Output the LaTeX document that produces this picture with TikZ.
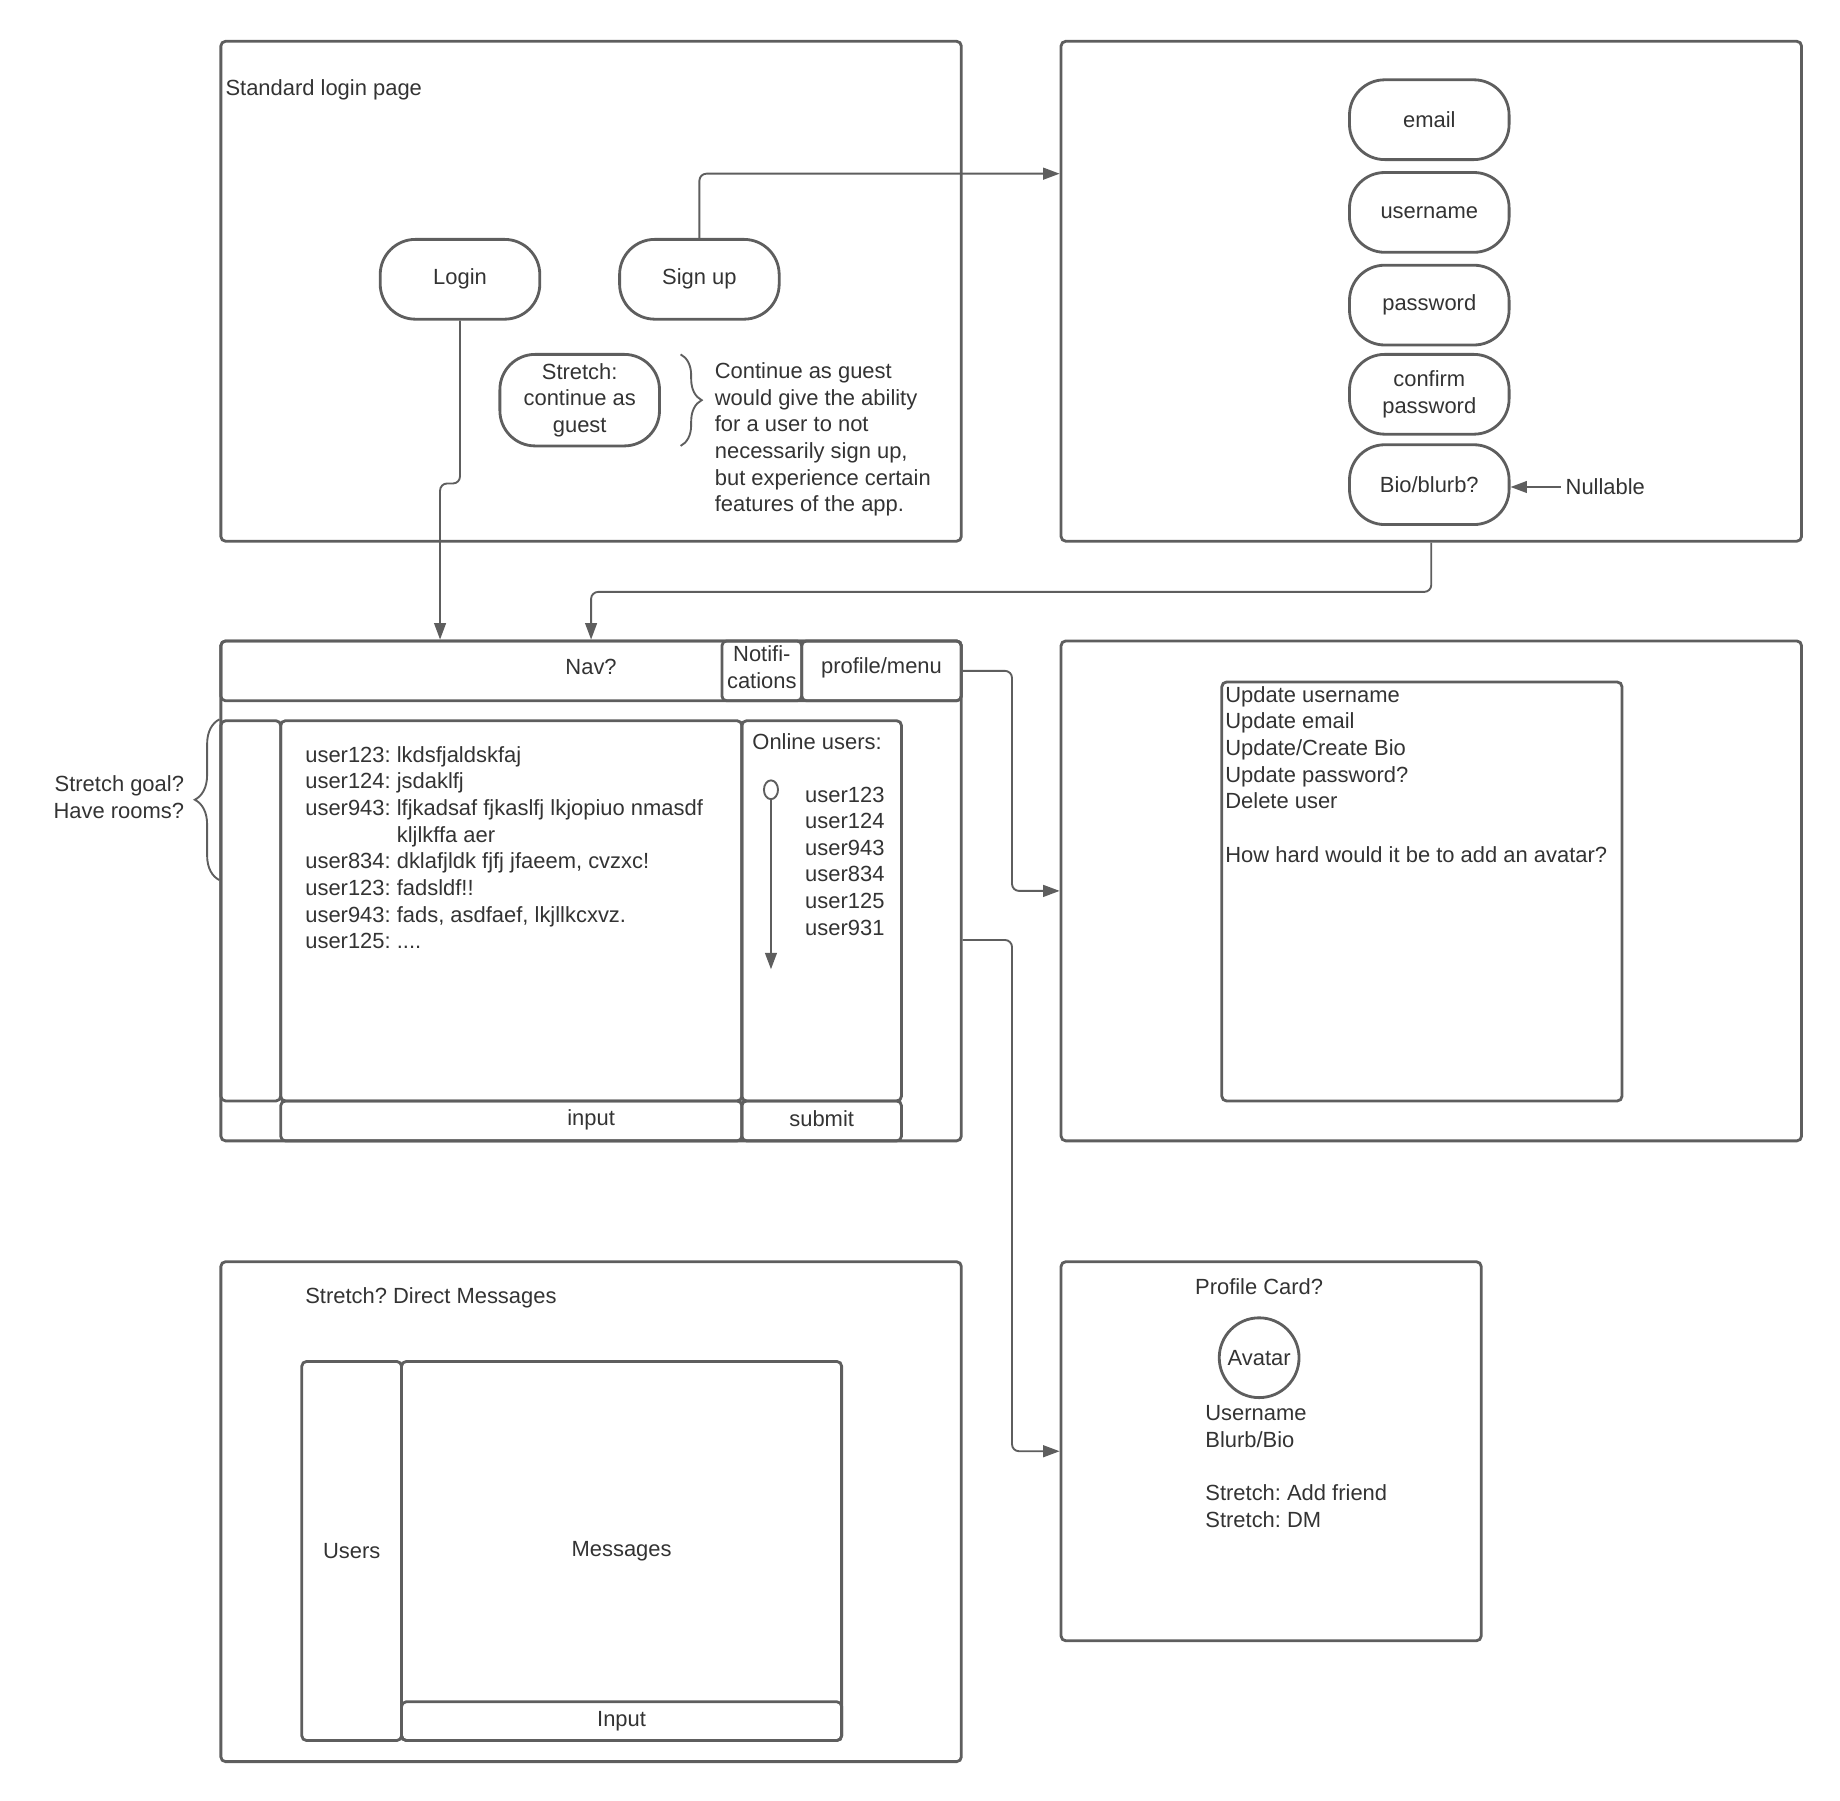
\documentclass[tikz,border=0pt]{standalone}
\usepackage{fontspec}
\setmainfont{Liberation Sans}
\frenchspacing
\usetikzlibrary{arrows.meta,shapes.geometric,decorations.pathreplacing}
\definecolor{wireline}{HTML}{5E5E5E}
\definecolor{wireink}{HTML}{333333}

\begin{document}
\begin{tikzpicture}[
  x=1pt, y=-1pt,
  every node/.style={font=\fontsize{18.7}{22.7}\selectfont, text=wireink},
  panel/.style={draw=wireline, line width=2.4pt, rounded corners=4pt,
                anchor=north west, inner sep=0pt},
  field/.style={draw=wireline, line width=2.4pt, rounded corners=30pt,
                minimum width=136pt, minimum height=68pt, align=center, inner sep=0pt},
  conn/.style={draw=wireline, line width=1.6pt, rounded corners=6pt,
               -{Triangle[length=14pt,width=10pt]}},
  txt/.style={anchor=base west, inner sep=0pt},
  bracket/.style={draw=wireline, line width=1.6pt, decorate,
                  decoration={brace, amplitude=#1}}
]

\useasboundingbox (0,0) rectangle (1568,1534);

%% ==== login page ====================================================
\node[panel, minimum width=631pt, minimum height=426pt] (loginpage) at (187,34) {};
\node[txt] (logintitle) at (192,81.5) {Standard login page};

\node[field] (login)  at (392,238) {Login};
\node[field] (signup) at (596,238) {Sign up};
\node[field, minimum height=78pt] (guest) at (494,341) {Stretch:\\continue as\\guest};

\draw[bracket=18] (580,302) -- (580,380);
\node[txt] (guestnote) at (609,322.5) {\begin{tabular}[t]{@{}l@{}}
  Continue as guest\\ would give the ability\\ for a user to not\\
  necessarily sign up,\\ but experience certain\\ features of the app.
\end{tabular}};

%% ==== sign up form ==================================================
\node[panel, minimum width=631pt, minimum height=426pt] (signuppage) at (903,34) {};

\foreach \n/\y/\t in {email/102/email, uname/181/username, pword/260/password,
                      confirm/336/{confirm\\password}, bio/413/{Bio/blurb?}}
  \node[field] (\n) at (1218,\y) {\t};

\node[anchor=west, inner sep=4pt] (nullable) at (1330,415) {Nullable};
\draw[conn] (nullable.west) -- (nullable.west -| bio.east);

%% ==== chat page =====================================================
\node[panel, minimum width=631pt, minimum height=426pt] (chatpage) at (187,545) {};
\node[panel, minimum width=631pt, minimum height=51pt] (nav) at (187,545) {};
\node (navlabel) at ([yshift=3pt]nav.center) {Nav?};
\node[panel, minimum width=68pt, minimum height=51pt] (notif) at (614,545) {};
\node[align=center, inner sep=0pt] (notiflabel) at ([yshift=3pt]notif.center) {Notifi-\\cations};
\node[panel, minimum width=136pt, minimum height=51pt] (profile) at (682,545) {};
\node (profilelabel) at ([yshift=3pt]profile.center) {profile/menu};

\node[panel, minimum width=51pt, minimum height=324pt] (rooms) at (187,613) {};
\node[panel, minimum width=393pt, minimum height=324pt] (messages) at (238,613) {};
\node[panel, minimum width=136pt, minimum height=324pt] (online) at (631,613) {};
\node[panel, minimum width=393pt, minimum height=34pt] (input) at (238,937) {};
\node (inputlabel) at ([yshift=1pt]nav.center |- input.center) {input};
\node[panel, minimum width=136pt, minimum height=34pt] (submit) at (631,937) {};
\node (submitlabel) at ([yshift=2pt]submit.center) {submit};

\node[txt] (chatlog) at (260,649.5) {\begin{tabular}[t]{@{}l@{\ }l@{}}
  user123: & lkdsfjaldskfaj\\
  user124: & jsdaklfj\\
  user943: & lfjkadsaf fjkaslfj lkjopiuo nmasdf\\
           & kljlkffa aer\\
  user834: & dklafjldk fjfj jfaeem, cvzxc!\\
  user123: & fadsldf!!\\
  user943: & fads, asdfaef, lkjllkcxvz.\\
  user125: & ....
\end{tabular}};

\node[txt] (onlinetitle) at (641,638.5) {Online users:};
\node[txt] (onlinelist) at (686,683.5) {\begin{tabular}[t]{@{}l@{}}
  user123\\ user124\\ user943\\ user834\\ user125\\ user931
\end{tabular}};

\node[draw=wireline, line width=1.6pt, ellipse, minimum width=12pt,
      minimum height=16pt, inner sep=0pt] (knob) at (657,673) {};
\coordinate (scrollend) at (657,826);
\draw[conn] (knob.south) -- (scrollend);

\draw[bracket=21] (187,750) -- (187,613);
\node[anchor=base east, inner sep=0pt] (roomsnote) at (157,674.5) {\begin{tabular}[t]{@{}r@{}}
  Stretch goal?\\ Have rooms?
\end{tabular}};

%% ==== profile menu ==================================================
\node[panel, minimum width=631pt, minimum height=426pt] (settingspage) at (903,545) {};
\node[panel, minimum width=341pt, minimum height=357pt] (settings) at (1040,580) {};
\node[txt] (settingslist) at (1044,598.5) {\begin{tabular}[t]{@{}l@{}}
  Update username\\ Update email\\ Update/Create Bio\\ Update password?\\
  Delete user\\ \\ How hard would it be to add an avatar?
\end{tabular}};

%% ==== direct messages ===============================================
\node[panel, minimum width=631pt, minimum height=426pt] (dmpage) at (187,1074) {};
\node[txt] (dmtitle) at (260,1110.5) {Stretch? Direct Messages};
\node[panel, minimum width=85pt, minimum height=323pt] (dmusers) at (256,1159) {Users};
\node[panel, minimum width=375pt, minimum height=323pt] (dmmessages) at (341,1159) {Messages};
\node[panel, minimum width=375pt, minimum height=33pt] (dminput) at (341,1449) {Input};

%% ==== profile card ==================================================
\node[panel, minimum width=358pt, minimum height=323pt] (cardpage) at (903,1074) {};
\node[anchor=base, inner sep=0pt] (cardtitle) at (1073,1103.5) {Profile Card?};
\node[draw=wireline, line width=2.4pt, circle, minimum size=68pt, inner sep=0pt] (avatar) at (1073,1157) {Avatar};
\node[txt] (cardlist) at (1027,1210.5) {\begin{tabular}[t]{@{}l@{}}
  Username\\ Blurb/Bio\\ \\ Stretch: Add friend\\ Stretch: DM
\end{tabular}};

%% ==== connectors ====================================================
\draw[conn] (signup.north) |- (signuppage.west |- 0,148);
\draw[conn] (login.south) |- (375,412) -- (chatpage.north -| 375,0);
\draw[conn] (signuppage.south) -- ++(0,42) -| (nav.north);
\draw[conn] (profile.east) -- ++(42,0) |- (settingspage.west);
\draw[conn] (chatpage.east |- 0,801) -- ++(42,0) |- (cardpage.west);

\end{tikzpicture}
\end{document}
